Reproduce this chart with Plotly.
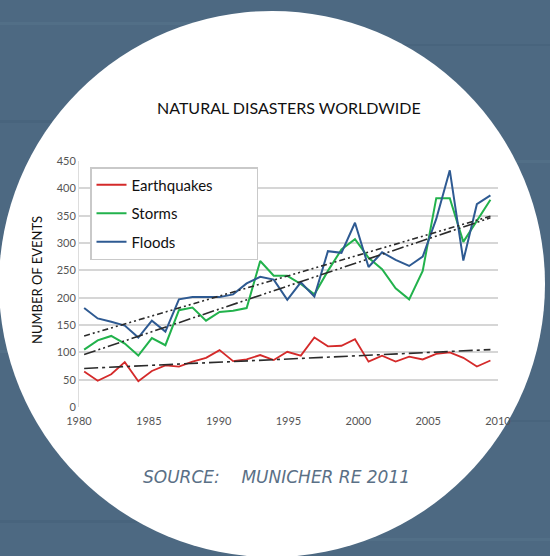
import base64
import plotly.graph_objects as go

# ---------------- data ----------------
years = list(range(1980, 2011))
earthquakes = [65, 48, 60, 82, 47, 66, 76, 74, 83, 90, 104, 84, 87, 95, 86, 101,
               94, 127, 111, 112, 124, 83, 94, 83, 92, 87, 97, 100, 90, 74, 85]
storms = [105, 122, 130, 116, 94, 126, 113, 177, 182, 158, 174, 176, 181, 267, 240, 240,
          225, 206, 249, 288, 307, 273, 252, 217, 197, 249, 382, 382, 302, 341, 379]
floods = [181, 162, 156, 149, 127, 158, 138, 197, 201, 201, 201, 206, 226, 238, 233, 196,
          228, 202, 285, 282, 337, 256, 283, 269, 258, 275, 344, 433, 268, 371, 387]

trend_years = [1980, 2010]
trend_floods = [130, 349]
trend_storms = [96, 346]
trend_quakes = [70.5, 105]

xtick_labels = ["1980", "1985", "1990", "1995", "2000", "2005", "2010"]
ytick_vals = [0, 50, 100, 150, 200, 250, 300, 350, 400, 450]

# ---------------- layout geometry (pixels) ----------------
W, H = 550, 556
L, R, T, B = 79, 498, 161, 407          # plot area edges
pw, ph = R - L, B - T
x_lo, x_hi = 1979.62, 2010.56           # data range across the plot area


def px(x):
    return (x - L) / pw


def py(y):
    return (B - y) / ph


FUT = "Lato, 'Noto Sans', sans-serif"
RED, GREEN, BLUE = "#d42a2a", "#22b24c", "#2e5a92"
TREND = "#2b2b2b"
SEA = "#4d6982"

fig = go.Figure()

fig.add_trace(go.Scatter(x=years, y=earthquakes, mode="lines", name="Earthquakes" + "\u00a0" * 10,
                         legendgroup="a", line=dict(color=RED, width=1.8)))
fig.add_trace(go.Scatter(x=years, y=storms, mode="lines", name="Storms",
                         legendgroup="b", line=dict(color=GREEN, width=2)))
fig.add_trace(go.Scatter(x=years, y=floods, mode="lines", name="Floods",
                         legendgroup="c", line=dict(color=BLUE, width=2)))

fig.add_trace(go.Scatter(x=trend_years, y=trend_floods, mode="lines", showlegend=False,
                         line=dict(color=TREND, width=1.6, dash="6px,3px,2px,3px,2px,3px")))
fig.add_trace(go.Scatter(x=trend_years, y=trend_storms, mode="lines", showlegend=False,
                         line=dict(color=TREND, width=1.6, dash="12px,3px,2px,3px,2px,3px")))
fig.add_trace(go.Scatter(x=trend_years, y=trend_quakes, mode="lines", showlegend=False,
                         line=dict(color=TREND, width=1.6, dash="14px,4px,3px,4px")))

# tick labels evenly spread across the plot width
xtick_vals = [x_lo + i * (x_hi - x_lo) / (len(xtick_labels) - 1) for i in range(len(xtick_labels))]

# background: sea-blue page with a white disc, as an inline SVG image
cx, cy, r = 272, 284, 273
streaks = "".join(
    f'<rect x="{x}" y="{y}" width="{w}" height="{h}" fill="{c}" opacity="0.18"/>'
    for x, y, w, h, c in [(0, 22, 300, 3, "#6a8aa2"), (250, 44, 300, 2, "#34506a"),
                          (0, 120, 120, 3, "#34506a"), (430, 160, 120, 3, "#6a8aa2"),
                          (0, 350, 100, 3, "#6a8aa2"), (460, 420, 90, 2, "#34506a"),
                          (0, 520, 220, 3, "#34506a"), (330, 538, 220, 3, "#6a8aa2")]
)
svg = (f'<svg xmlns="http://www.w3.org/2000/svg" width="{W}" height="{H}" viewBox="0 0 {W} {H}">'
       f'<rect width="{W}" height="{H}" fill="{SEA}"/>{streaks}'
       f'<circle cx="{cx}" cy="{cy}" r="{r}" fill="white"/></svg>')
bg_src = "data:image/svg+xml;base64," + base64.b64encode(svg.encode()).decode()

fig.update_layout(
    width=W, height=H,
    margin=dict(l=L, r=W - R, t=T, b=H - B, pad=0),
    paper_bgcolor=SEA,
    plot_bgcolor="rgba(0,0,0,0)",
    images=[dict(source=bg_src, xref="paper", yref="paper", x=px(0), y=py(0),
                 sizex=W / pw, sizey=H / ph, xanchor="left", yanchor="top",
                 sizing="stretch", layer="below")],
    showlegend=True,
    legend=dict(x=px(90), y=py(167), xanchor="left", yanchor="top",
                bgcolor="white", bordercolor="#c9c9c9", borderwidth=1.5,
                font=dict(family=FUT, size=15, color="#111"),
                tracegroupgap=6, itemwidth=30),
    xaxis=dict(range=[x_lo, x_hi], tickmode="array", tickvals=xtick_vals, ticktext=xtick_labels,
               showgrid=False, zeroline=False, showline=False, ticks="", ticklabelstandoff=6,
               tickfont=dict(family=FUT, size=11, color="#555")),
    yaxis=dict(range=[0, 450], tickmode="array", tickvals=ytick_vals,
               showgrid=True, gridcolor="#d6d6d6", gridwidth=1.8, zeroline=False,
               showline=True, linecolor="#dddddd", linewidth=1, ticks="",
               tickfont=dict(family=FUT, size=11, color="#555")),
    annotations=[
        dict(text="NATURAL DISASTERS WORLDWIDE", xref="paper", yref="paper",
             x=px(289), y=py(107), xanchor="center", yanchor="middle", showarrow=False,
             font=dict(family=FUT, size=16, color="#111")),
        dict(text="NUMBER OF EVENTS", xref="paper", yref="paper", textangle=-90,
             x=px(37), y=py(280), xanchor="center", yanchor="middle", showarrow=False,
             font=dict(family=FUT, size=13, color="#111")),
        dict(text="<i>SOURCE:&nbsp;&nbsp;&nbsp;&nbsp;MUNICHER RE 2011</i>", xref="paper", yref="paper",
             x=px(276), y=py(477), xanchor="center", yanchor="middle", showarrow=False,
             font=dict(family="'DejaVu Sans', Verdana, sans-serif", size=17, color="#5a7086")),
    ],
)

fig.write_html("out.html", config={"displayModeBar": False},
               post_script="document.body.style.margin='0';")
